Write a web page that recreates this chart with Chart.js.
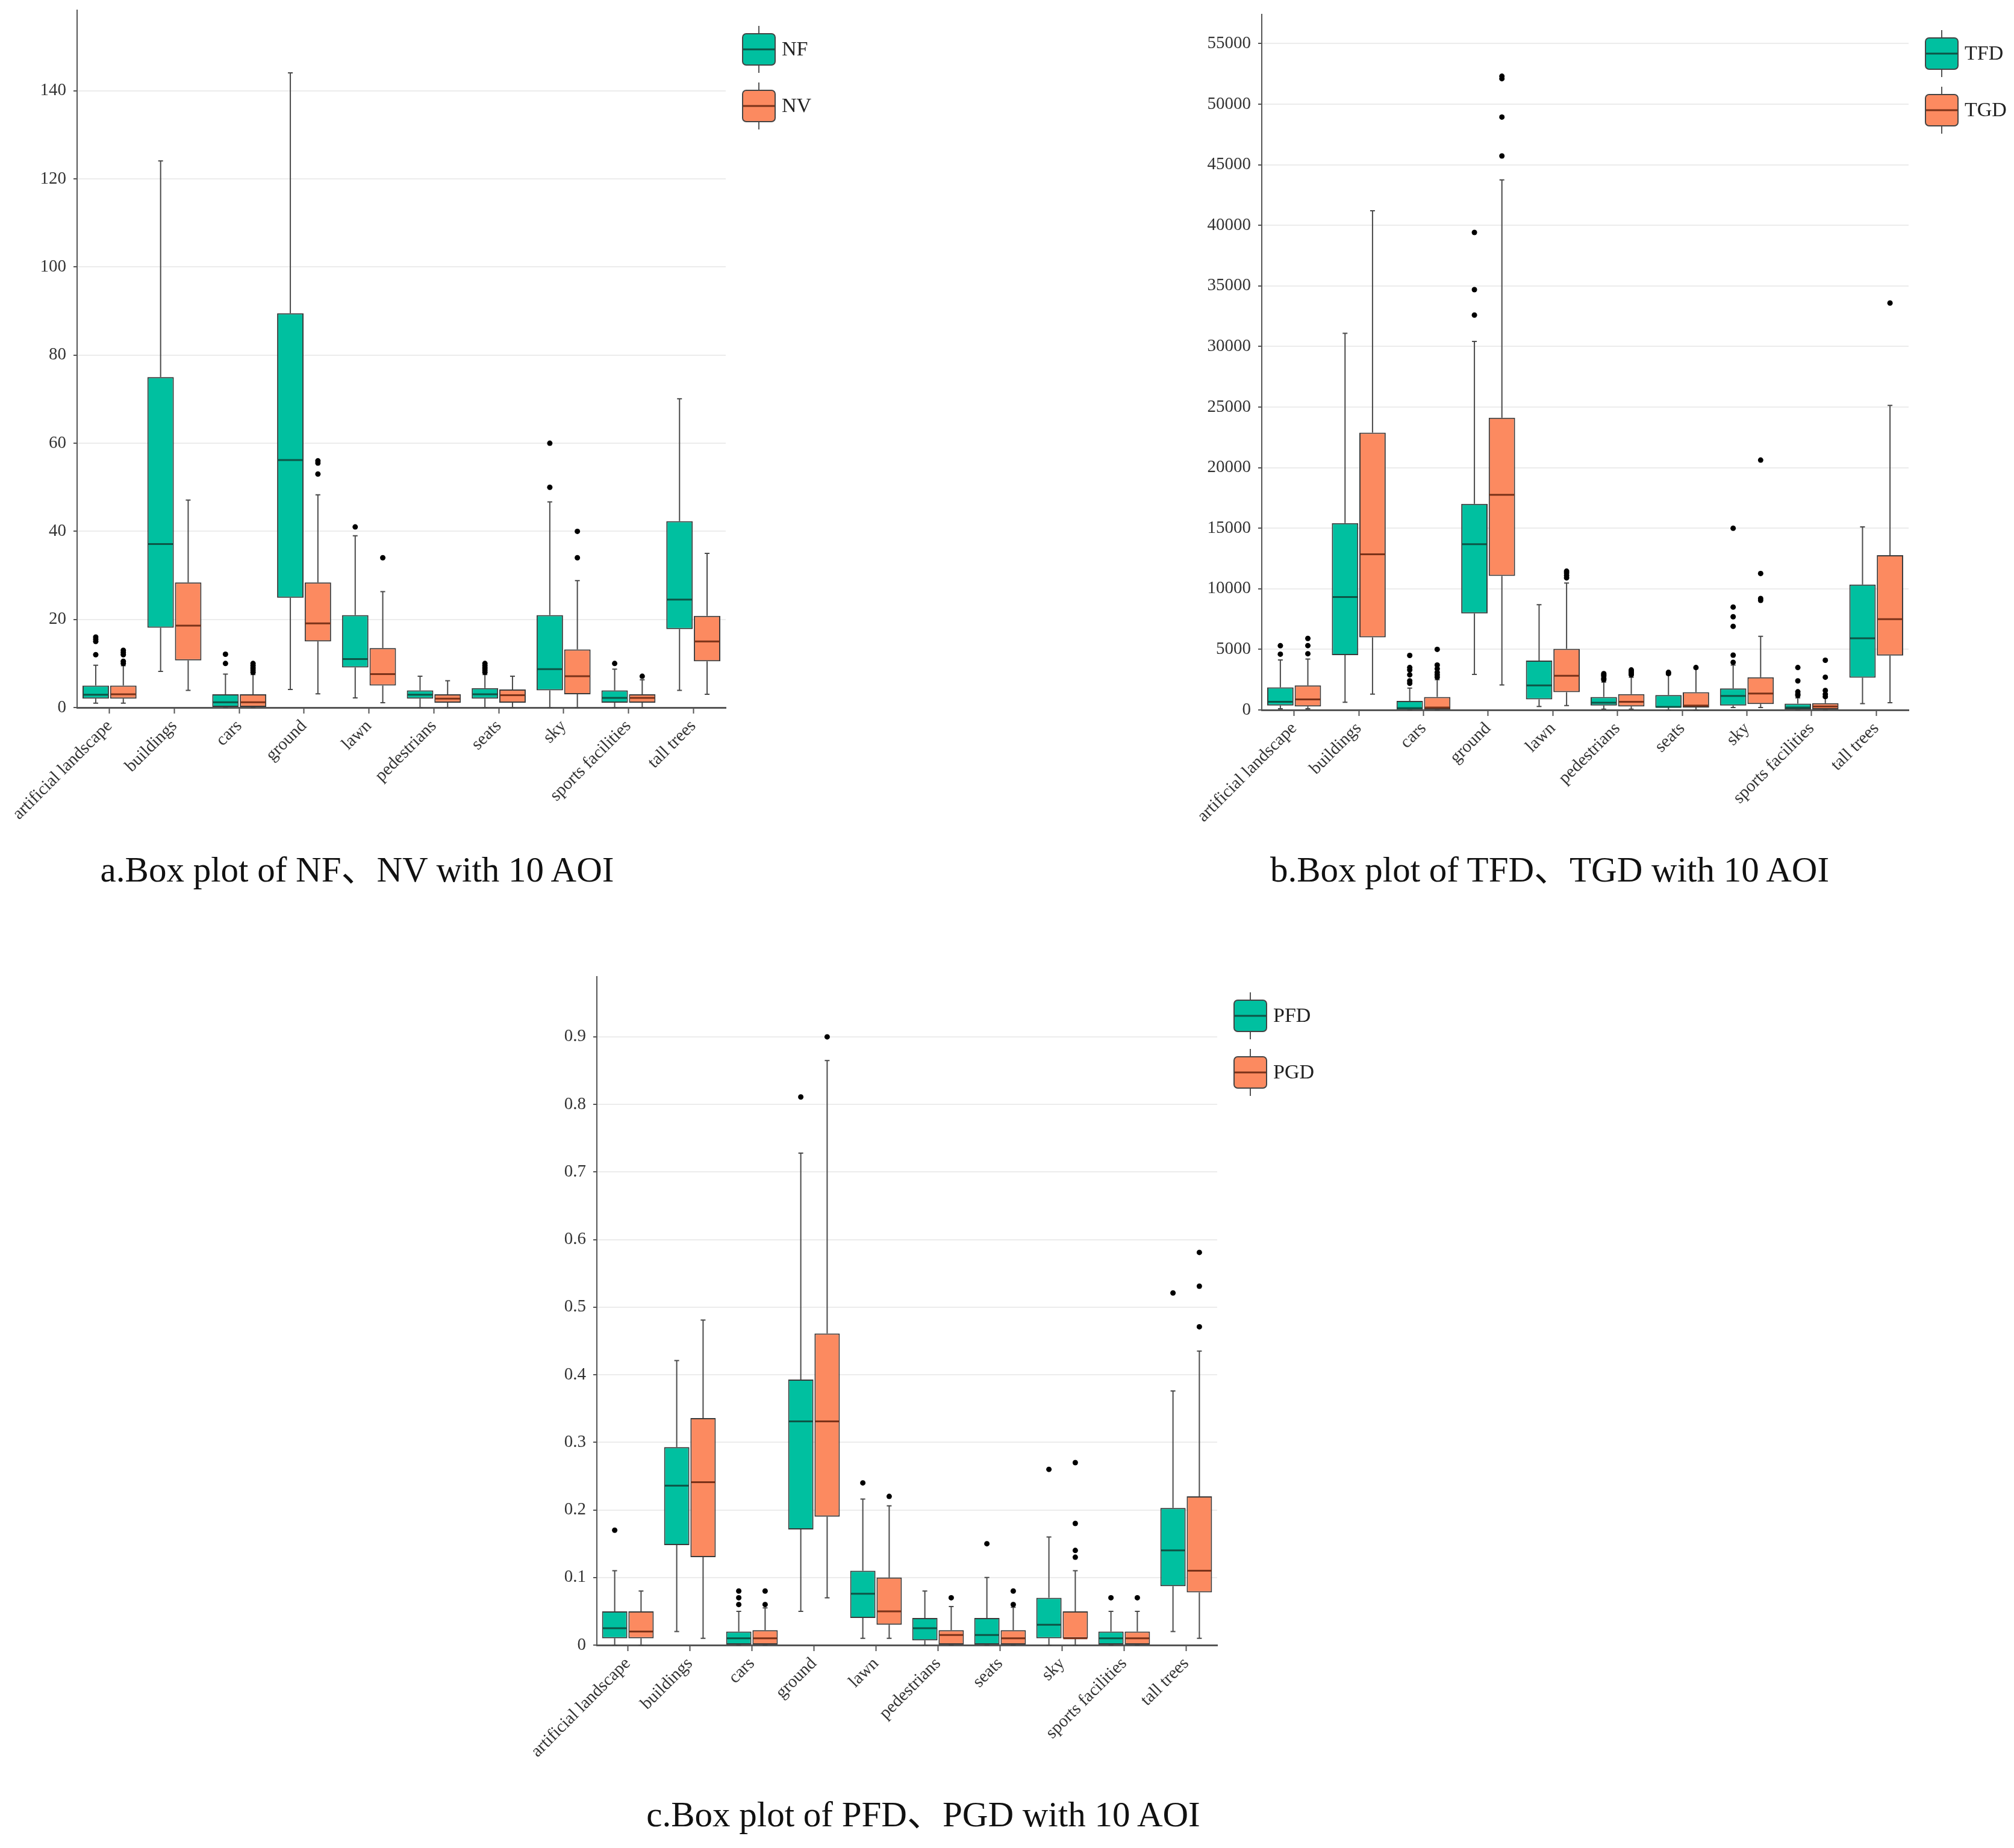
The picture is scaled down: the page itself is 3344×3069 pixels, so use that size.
<!DOCTYPE html>
<html>
<head>
<meta charset="utf-8">
<script src="https://cdn.jsdelivr.net/npm/chart.js@4.4.1/dist/chart.umd.min.js"></script>
<style>
body { margin:0; background:#fff; width:3344px; height:3069px; position:relative; overflow:hidden; font-family:'Liberation Serif','Noto Sans CJK SC',serif; }
.box { position:absolute; }
.cap { position:absolute; transform:translateX(-50%); font-size:59px; line-height:66px; color:#111; white-space:nowrap; }
</style>
</head>
<body>
<div class="box" style="left:0px;top:0px;width:1360px;height:1380px"><canvas id="chartA"></canvas></div>
<div class="box" style="left:1960px;top:0px;width:1384px;height:1384px"><canvas id="chartB"></canvas></div>
<div class="box" style="left:870px;top:1600px;width:1330px;height:1337px"><canvas id="chartC"></canvas></div>
<div class="cap" style="left:593px;top:1411px">a.Box plot of NF、NV with 10 AOI</div>
<div class="cap" style="left:2573px;top:1411px">b.Box plot of TFD、TGD with 10 AOI</div>
<div class="cap" style="left:1533px;top:2980px">c.Box plot of PFD、PGD with 10 AOI</div>
<script>
// categories (10 AOI)
var categorias = ["artificial landscape", "buildings", "cars", "ground", "lawn", "pedestrians", "seats", "sky", "sports facilities", "tall trees"]

// y tick values of each chart
var ticksA = [0, 20, 40, 60, 80, 100, 120, 140]
var ticksB = [0, 5000, 10000, 15000, 20000, 25000, 30000, 35000, 40000, 45000, 50000, 55000]
var ticksC = [0, 0.1, 0.2, 0.3, 0.4, 0.5, 0.6, 0.7, 0.8, 0.9]

// each row: [min, q1, median, q3, max]
var NF = [[1, 2, 2.9, 5, 9.6], [8.2, 18.1, 37.1, 75, 124.1], [0, 0, 1.2, 3, 7.6], [4.1, 24.9, 56.2, 89.5, 144.1], [2.2, 9.1, 11, 21, 39],
  [0, 2, 2.9, 3.9, 7.1], [0, 2, 3, 4.4, 7.5], [0, 3.9, 8.7, 21, 46.7], [0, 1.1, 2.2, 3.9, 8.7], [3.9, 17.8, 24.5, 42.3, 70.1]]
var NF_out = [[12, 15, 15.5, 16], [], [10, 12.1], [], [41], [], [8, 8.5, 9, 9.5, 10], [50, 60], [10], []]
var NV = [[1, 2, 3, 5, 9.5], [3.9, 10.7, 18.6, 28.4, 47.1], [0, 0, 1.2, 3, 7.5], [3.1, 15, 19.1, 28.4, 48.3], [1.1, 5, 7.6, 13.5, 26.3],
  [0, 1.1, 2, 3, 6.1], [0, 1.1, 2.8, 4.1, 7.1], [0, 3, 7.1, 13.2, 28.8], [0, 1.1, 2.2, 3, 6.3], [3, 10.5, 15, 20.8, 35]]
var NV_out = [[10, 10.5, 12, 12.5, 13], [], [8, 8.5, 9, 9.5, 10], [53, 55.5, 56], [34], [], [], [34, 40], [7.1], []]

var TFD = [[100, 360, 670, 1860, 4120], [630, 4520, 9320, 15420, 31090], [0, 0, 150, 750, 1800], [2930, 7970, 13680, 17010, 30410], [280, 870, 2020, 4080, 8680],
  [60, 360, 600, 1070, 2300], [0, 200, 250, 1230, 2900], [200, 360, 1150, 1780, 3700], [0, 0, 200, 520, 1000], [520, 2660, 5910, 10350, 15110]]
var TFD_out = [[4600, 5300], [], [2200, 2400, 2900, 3300, 3500, 4500], [32590, 34690, 39410], [], [2500, 2600, 2800, 2900, 3000], [3000, 3100],
  [3930, 4520, 6900, 7690, 8490, 14990], [1200, 1300, 1500, 2400, 3500], []]
var TGD = [[100, 280, 870, 2020, 4200], [1310, 5990, 12850, 22880, 41200], [0, 0, 200, 1070, 2500], [2060, 11060, 17760, 24110, 43740], [360, 1470, 2820, 5040, 10470],
  [60, 280, 670, 1310, 2700], [0, 200, 360, 1470, 3400], [200, 480, 1350, 2700, 6070], [0, 0, 280, 560, 1000], [600, 4480, 7490, 12770, 25140]]
var TGD_out = [[4640, 5310, 5900], [], [2700, 2900, 3100, 3400, 3700, 5000], [45720, 48930, 52100, 52300], [10900, 11100, 11300, 11450], [2900, 3000, 3100, 3200, 3300], [3500],
  [9040, 9200, 11260, 20620], [1100, 1300, 1600, 2700, 4100], [33580]]

var PFD = [[0, 0.01, 0.025, 0.05, 0.11], [0.02, 0.148, 0.236, 0.293, 0.421], [0, 0, 0.01, 0.02, 0.05], [0.05, 0.171, 0.331, 0.393, 0.728], [0.01, 0.04, 0.076, 0.11, 0.216],
  [0, 0.007, 0.025, 0.04, 0.08], [0, 0, 0.015, 0.04, 0.1], [0, 0.01, 0.03, 0.07, 0.16], [0, 0, 0.01, 0.02, 0.05], [0.02, 0.087, 0.14, 0.203, 0.376]]
var PFD_out = [[0.17], [], [0.06, 0.07, 0.08], [0.811], [0.24], [], [0.15], [0.26], [0.07], [0.521]]
var PGD = [[0, 0.01, 0.02, 0.05, 0.08], [0.01, 0.13, 0.241, 0.336, 0.481], [0, 0, 0.01, 0.022, 0.055], [0.07, 0.19, 0.331, 0.461, 0.865], [0.01, 0.03, 0.05, 0.1, 0.206],
  [0, 0, 0.015, 0.022, 0.057], [0, 0, 0.01, 0.022, 0.056], [0, 0.01, 0.01, 0.05, 0.11], [0, 0, 0.01, 0.02, 0.05], [0.01, 0.078, 0.11, 0.22, 0.435]]
var PGD_out = [[], [], [0.06, 0.08], [0.9], [0.22], [0.07], [0.06, 0.08], [0.13, 0.14, 0.18, 0.27], [0.07], [0.471, 0.531, 0.581]]

var corVerde = "#00C0A0"
var corLaranja = "#FC8A60"
var medianaVerde = "#0E5446"
var medianaLaranja = "#7A3219"
var fonteSerif = "'Liberation Serif', 'Times New Roman', serif"

// whiskers, medians and outliers around the floating bars
var boxPlot = {
  id: "boxPlot",
  beforeDatasetsDraw(chart) {
    var ctx = chart.ctx
    var y = chart.scales.y
    chart.data.datasets.forEach((ds, di) => {
      chart.getDatasetMeta(di).data.forEach((bar, i) => {
        var s = ds.stats[i]
        ctx.save()
        ctx.strokeStyle = "#4a4a4a"
        ctx.lineWidth = 2
        ctx.beginPath()
        ctx.moveTo(bar.x, y.getPixelForValue(s[4]))
        ctx.lineTo(bar.x, y.getPixelForValue(s[3]))
        ctx.moveTo(bar.x, y.getPixelForValue(s[1]))
        ctx.lineTo(bar.x, y.getPixelForValue(s[0]))
        ctx.moveTo(bar.x - 4, y.getPixelForValue(s[4]))
        ctx.lineTo(bar.x + 4, y.getPixelForValue(s[4]))
        ctx.moveTo(bar.x - 4, y.getPixelForValue(s[0]))
        ctx.lineTo(bar.x + 4, y.getPixelForValue(s[0]))
        ctx.stroke()
        ctx.restore()
      })
    })
  },
  afterDatasetsDraw(chart) {
    var ctx = chart.ctx
    var y = chart.scales.y
    chart.data.datasets.forEach((ds, di) => {
      chart.getDatasetMeta(di).data.forEach((bar, i) => {
        var s = ds.stats[i]
        ctx.save()
        ctx.strokeStyle = ds.medianColor
        ctx.lineWidth = 3
        ctx.beginPath()
        ctx.moveTo(bar.x - bar.width / 2 + 1, y.getPixelForValue(s[2]))
        ctx.lineTo(bar.x + bar.width / 2 - 1, y.getPixelForValue(s[2]))
        ctx.stroke()
        ctx.fillStyle = "#000"
        ds.outliers[i].forEach(v => {
          ctx.beginPath()
          ctx.arc(bar.x, y.getPixelForValue(v), 4.5, 0, Math.PI * 2)
          ctx.fill()
        })
        ctx.restore()
      })
    })
  }
}

// legend with the little box glyph, right of the plot
var legendaBox = {
  id: "legendaBox",
  afterDraw(chart) {
    var ctx = chart.ctx
    var area = chart.chartArea
    chart.data.datasets.forEach((ds, di) => {
      var cx = area.right + 55
      var cy = area.top + 65 + di * 94
      ctx.save()
      ctx.strokeStyle = "#555"
      ctx.lineWidth = 2
      ctx.beginPath()
      ctx.moveTo(cx, cy - 39); ctx.lineTo(cx, cy - 26)
      ctx.moveTo(cx, cy + 26); ctx.lineTo(cx, cy + 39)
      ctx.stroke()
      ctx.fillStyle = ds.backgroundColor
      ctx.strokeStyle = "#444"
      ctx.beginPath()
      ctx.roundRect(cx - 27, cy - 26, 54, 52, 6)
      ctx.fill()
      ctx.stroke()
      ctx.strokeStyle = ds.medianColor
      ctx.lineWidth = 3
      ctx.beginPath()
      ctx.moveTo(cx - 26, cy); ctx.lineTo(cx + 26, cy)
      ctx.stroke()
      ctx.fillStyle = "#222"
      ctx.font = "34px " + fonteSerif
      ctx.textBaseline = "middle"
      ctx.fillText(ds.label, area.right + 93, cy + 1)
      ctx.restore()
    })
  }
}

function formatar(v) {
  if (v === 0) return "0"
  return String(Math.round(v * 1000) / 1000)
}

function plotarBoxplot(id, nome1, s1, o1, nome2, s2, o2, yMax, yTicks, larguraY, pad) {
  var ctx = document.getElementById(id)
  new Chart(ctx, {
    type: "bar",
    data: {
      labels: categorias,
      datasets: [{
        label: nome1,
        data: s1.map(r => [r[1], r[3]]),
        stats: s1,
        outliers: o1,
        backgroundColor: corVerde,
        medianColor: medianaVerde,
        borderColor: "#3a3a3a",
        borderWidth: 2,
        borderSkipped: false
      }, {
        label: nome2,
        data: s2.map(r => [r[1], r[3]]),
        stats: s2,
        outliers: o2,
        backgroundColor: corLaranja,
        medianColor: medianaLaranja,
        borderColor: "#3a3a3a",
        borderWidth: 2,
        borderSkipped: false
      }]
    },
    options: {
      responsive: true,
      maintainAspectRatio: false,
      animation: false,
      devicePixelRatio: 1,
      categoryPercentage: 0.85,
      barPercentage: 0.96,
      layout: { padding: pad },
      plugins: {
        legend: { display: false },
        tooltip: { enabled: false }
      },
      scales: {
        x: {
          grid: { display: true, drawOnChartArea: false, offset: false, tickLength: 10, tickColor: "#555", tickWidth: 2 },
          border: { color: "#555", width: 3 },
          ticks: { color: "#333", font: { family: fonteSerif, size: 29 }, minRotation: 45, maxRotation: 45, padding: 4 },
          afterFit(scale) {
            scale.height = 200
            scale.paddingLeft = 0
            scale.paddingRight = 0
          }
        },
        y: {
          min: 0,
          max: yMax,
          grid: { color: "#ececec", lineWidth: 2, tickLength: 6, tickColor: "#555" },
          border: { color: "#555", width: 2 },
          ticks: { color: "#333", font: { family: fonteSerif, size: 29 }, padding: 12, callback: v => formatar(v) },
          afterBuildTicks(scale) { scale.ticks = yTicks.map(v => ({ value: v })) },
          afterFit(scale) {
            scale.width = larguraY
            scale.paddingTop = 0
            scale.paddingBottom = 0
          }
        }
      }
    },
    plugins: [boxPlot, legendaBox]
  })
}

plotarBoxplot("chartA", "NF", NF, NF_out, "NV", NV, NV_out, 158.3, ticksA, 128, { left: 0, right: 155, top: 17, bottom: 5 })
plotarBoxplot("chartB", "TFD", TFD, TFD_out, "TGD", TGD, TGD_out, 57400, ticksB, 135, { left: 0, right: 175, top: 24, bottom: 5 })
plotarBoxplot("chartC", "PFD", PFD, PFD_out, "PGD", PGD, PGD_out, 0.989, ticksC, 121, { left: 0, right: 179, top: 22, bottom: 5 })
</script>
</body>
</html>
